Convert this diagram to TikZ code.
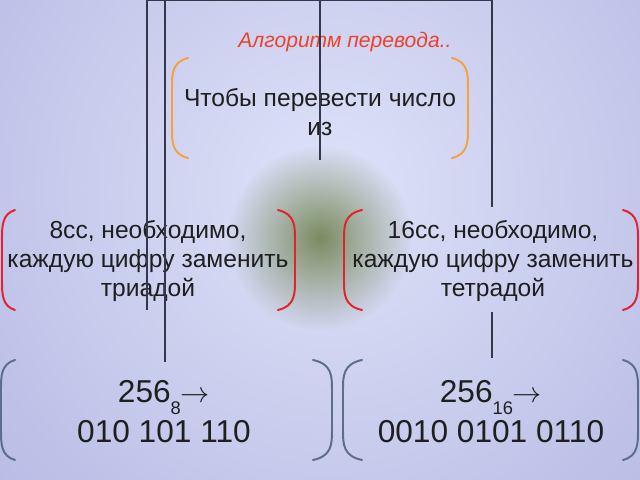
\documentclass[tikz,border=0pt]{standalone}
\usepackage{fontspec}
\setmainfont{Liberation Sans}
\usetikzlibrary{fadings}

\definecolor{bglight}{RGB}{222,226,248}
\definecolor{bgdark}{RGB}{138,140,204}
\definecolor{glowgreen}{RGB}{122,140,96}
\definecolor{brkorange}{RGB}{242,162,62}
\definecolor{brkred}{RGB}{226,34,44}
\definecolor{brkblue}{RGB}{92,110,142}
\definecolor{titlered}{RGB}{236,66,44}
\definecolor{rulegray}{RGB}{52,56,74}

\tikzfading[name=glowfade, inner color=transparent!0, outer color=transparent!100]

\begin{document}
\begin{tikzpicture}[x=0.025cm, y=-0.025cm,
  title/.style={text=titlered, font=\fontsize{15}{18}\selectfont\itshape},
  txt/.style={align=center, text=black!88, font=\fontsize{17.5}{20.6}\selectfont},
  big/.style={align=center, text=black!88, font=\fontsize{22.5}{28.4}\selectfont},
  rule/.style={rulegray, line width=0.8pt},
  brk/.style={line width=1.4pt, line cap=round}]

\useasboundingbox (0,0) rectangle (640,480);
\begin{scope}
\clip (0,0) rectangle (640,480);
\shade [inner color=bglight, outer color=bgdark] (330,190) circle (1000);
\end{scope}
\fill [glowgreen, path fading=glowfade] (320,238) circle (92);

% brackets
\foreach \tip/\ext/\ya/\yb/\col in {188/172/58/158/brkorange, 15/2/210/310/brkred,
    362/344/210/310/brkred, 15/1/360/460/brkblue, 362/343/360/460/brkblue}
  \draw [brk, \col] (\tip,\ya) .. controls (\ext,\ya+4) and (\ext,\ya+16) .. (\ext,\ya+30)
    -- (\ext,\yb-30) .. controls (\ext,\yb-16) and (\ext,\yb-4) .. (\tip,\yb);
\foreach \tip/\ext/\ya/\yb/\col in {452/468/58/158/brkorange, 278/295/210/310/brkred,
    623/638/210/310/brkred, 313/332/360/460/brkblue, 623/638/360/460/brkblue}
  \draw [brk, \col] (\tip,\ya) .. controls (\ext,\ya+4) and (\ext,\ya+16) .. (\ext,\ya+30)
    -- (\ext,\yb-30) .. controls (\ext,\yb-16) and (\ext,\yb-4) .. (\tip,\yb);

% texts
\node [title] (algo) at (345,42) {Алгоритм перевода..};
\node [txt] (intro) at (320,112) {Чтобы перевести число\\из};
\node [txt] (oct) at (148,261) {8сс, необходимо,\\каждую цифру заменить\\триадой};
\node [txt] (hex) at (493,261) {16сс, необходимо,\\каждую цифру заменить\\тетрадой};
\node [big] (octex) at (164,412)
  {256\smash{\raisebox{-8pt}{\fontsize{13}{13}\selectfont 8}}$\rightarrow$\\010 101 110};
\node [big] (hexex) at (491,412)
  {256\smash{\raisebox{-8pt}{\fontsize{13}{13}\selectfont 16}}$\rightarrow$\\0010 0101 0110};

% lines
\draw [rule] (147,0.6) -- (493,0.6);
\draw [rule] (147,0) -- (147,310);
\draw [rule] (165,0) -- (165,362);
\draw [rule] (320,0) -- (320,160);
\draw [rule] (492,0) -- (492,207) (492,312) -- (492,358);
\end{tikzpicture}
\end{document}
